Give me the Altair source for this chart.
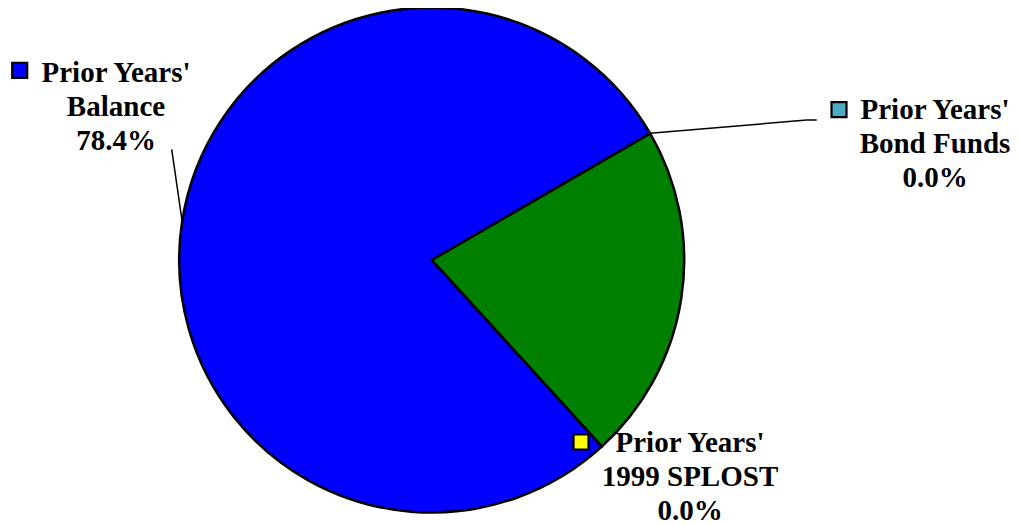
import math
import altair as alt
import pandas as pd

# ---- data ----
categories = ["Prior Years' Bond Funds", "Current Year", "Prior Years' 1999 SPLOST", "Prior Years' Balance"]
values = [0.0, 21.6, 0.0, 78.4]
colors = ["#4BACC6", "#008000", "#FFFF00", "#0000FF"]
label_lines = [["Prior Years'", "Bond Funds"], [], ["Prior Years'", "1999 SPLOST"], ["Prior Years'", "Balance"]]

# ---- geometry / style ----
START_DEG = 59.9
A0 = math.radians(START_DEG)
CX, CY, R = 423.7, 252.0, 252.5
FONT = "Liberation Serif"
FS = 29
LH = 34

labels = []
for lines, v in zip(label_lines, values):
    labels.append("\n".join(lines + [f"{v:.1f}%"]) if lines else "")

df = pd.DataFrame({
    "category": categories,
    "value": values,
    "order": list(range(len(categories))),
    "label": labels,
})

base = alt.Chart(df)

pie = base.mark_arc(stroke="black", strokeWidth=2.5, outerRadius=R).encode(
    theta=alt.Theta("value:Q", stack=True,
                    scale=alt.Scale(range=[A0, A0 + 2 * math.pi], zero=True, nice=False)),
    color=alt.Color("category:N", scale=alt.Scale(domain=categories, range=colors), legend=None),
    order=alt.Order("order:Q"),
    x=alt.value(CX),
    y=alt.value(CY),
)

geo = base.transform_window(
    cum="sum(value)", sort=[alt.SortField("order")], frame=[None, 0]
).transform_joinaggregate(
    total="sum(value)"
).transform_calculate(
    mid="datum.cum - datum.value / 2",
    ang=f"{A0} + 2 * PI * datum.mid / datum.total",
    ex=f"{CX} + {R} * sin(datum.ang)",
    ey=f"{CY} - {R} * cos(datum.ang)",
)


def leader(cat, x2, y2):
    return geo.transform_filter(alt.datum.category == cat).mark_rule(
        color="black", strokeWidth=1.5
    ).encode(
        x=alt.X("ex:Q", scale=None, axis=None),
        y=alt.Y("ey:Q", scale=None, axis=None),
        x2=alt.value(x2),
        y2=alt.value(y2),
    )


def label(cat, x, y, sx, sy):
    sub = base.transform_filter(alt.datum.category == cat)
    txt = sub.mark_text(
        font=FONT, fontSize=FS, fontWeight="bold", color="black",
        align="center", baseline="middle", lineBreak="\n", lineHeight=LH,
    ).encode(text="label:N", x=alt.value(x), y=alt.value(y))
    sq = sub.mark_point(
        shape="square", size=225, filled=True, stroke="black", strokeWidth=2.2, opacity=1
    ).encode(
        x=alt.value(sx), y=alt.value(sy),
        fill=alt.Color("category:N", scale=alt.Scale(domain=categories, range=colors), legend=None),
    )
    return txt + sq


bond_hline = alt.Chart(df.head(1)).mark_rule(color="black", strokeWidth=1.5).encode(
    x=alt.value(798.7), x2=alt.value(808.7), y=alt.value(112)
)

chart = alt.layer(
    pie,
    leader("Prior Years' Balance", 163.7, 141.3),
    leader("Prior Years' Bond Funds", 798.7, 112),
    bond_hline,
    label("Prior Years' Balance", 108, 65, 11.7, 62.3),
    label("Prior Years' Bond Funds", 927, 102, 831, 101.7),
    label("Prior Years' 1999 SPLOST", 682, 435, 573, 434),
).properties(
    width=1002, height=515, padding=0,
    autosize=alt.AutoSizeParams(type="none"),
).configure_view(stroke=None)

chart.save("out.html", embed_options={"renderer": "svg", "actions": False})
